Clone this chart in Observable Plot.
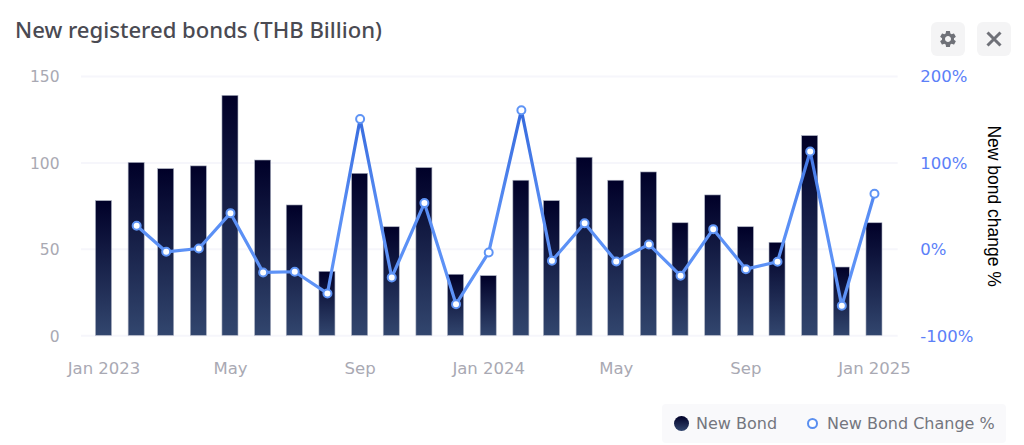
<!DOCTYPE html>
<html>
<head>
<meta charset="utf-8">
<script src="https://cdn.jsdelivr.net/npm/d3@7"></script>
<script src="https://cdn.jsdelivr.net/npm/@observablehq/plot@0.6"></script>
<style>
html,body{margin:0;padding:0;background:#fff;overflow:hidden}
#page{position:relative;width:1024px;height:445px}
#title{position:absolute;left:15px;top:14px;font:500 22.1px "Noto Sans",sans-serif;color:#4a4a52;white-space:nowrap}
.btn{position:absolute;top:22px;width:34px;height:34px;border-radius:6px;background:#f4f4f5;display:flex;align-items:center;justify-content:center}
#chart{position:absolute;left:0;top:60px}
#legend{position:absolute;left:662px;top:404px;width:344px;height:39px;background:#f9f9fb;border-radius:4px;font:16px "DejaVu Sans",sans-serif;color:#74767e}
#legend span{position:absolute;white-space:nowrap}
</style>
</head>
<body>
<div id="page">
  <div id="title">New registered bonds (THB Billion)</div>
  <div class="btn" style="left:931px"><svg width="20" height="20" viewBox="0 0 24 24"><path fill="#6f7178" d="M19.14 12.94c.04-.3.06-.61.06-.94 0-.32-.02-.64-.07-.94l2.03-1.58a.49.49 0 0 0 .12-.61l-1.92-3.32a.488.488 0 0 0-.59-.22l-2.39.96c-.5-.38-1.03-.7-1.62-.94l-.36-2.54a.484.484 0 0 0-.48-.41h-3.84c-.24 0-.43.17-.47.41l-.36 2.54c-.59.24-1.13.57-1.62.94l-2.39-.96c-.22-.08-.47 0-.59.22L2.74 8.87c-.12.21-.08.47.12.61l2.03 1.58c-.05.3-.09.63-.09.94s.02.64.07.94l-2.03 1.58a.49.49 0 0 0-.12.61l1.92 3.32c.12.22.37.29.59.22l2.39-.96c.5.38 1.03.7 1.62.94l.36 2.54c.05.24.24.41.48.41h3.84c.24 0 .44-.17.47-.41l.36-2.54c.59-.24 1.13-.56 1.62-.94l2.39.96c.22.08.47 0 .59-.22l1.92-3.32c.12-.22.07-.47-.12-.61l-2.01-1.58zM12 15.6c-1.98 0-3.6-1.62-3.6-3.6s1.62-3.6 3.6-3.6 3.6 1.62 3.6 3.6-1.62 3.6-3.6 3.6z"/></svg></div>
  <div class="btn" style="left:977px"><svg width="20" height="20" viewBox="0 0 20 20"><path d="M3.5 3.5L16.5 16.5M16.5 3.5L3.5 16.5" stroke="#6f7178" stroke-width="3" fill="none"/></svg></div>
  <div id="chart"></div>
  <div id="legend">
    <span style="left:11.5px;top:11.5px;width:15px;height:15px;border-radius:50%;background:linear-gradient(#000028,#32466e)"></span>
    <span style="left:34px;top:10px">New Bond</span>
    <span style="left:145px;top:14px;width:7px;height:7px;border:2px solid #5a8ff0;border-radius:50%;background:#fff"></span>
    <span style="left:165px;top:10px">New Bond Change %</span>
  </div>
</div>
<script>
const months = ["2023-01","2023-02","2023-03","2023-04","2023-05","2023-06","2023-07","2023-08","2023-09","2023-10","2023-11","2023-12","2024-01","2024-02","2024-03","2024-04","2024-05","2024-06","2024-07","2024-08","2024-09","2024-10","2024-11","2024-12","2025-01"];
const newBond = [77.9,100,96.4,98,138.8,101.4,75.4,37,93.7,62.8,97,35.3,34.5,89.7,77.9,103,89.7,94.5,65.1,81.2,62.8,53.8,115.5,39.5,65.1];
const newBondChange = [null,27.3,-2.8,1,41.9,-26.7,-25.9,-51,150.9,-32.5,53.5,-63.4,-3.6,161,-13.2,30.3,-14,5.7,-30.5,23.4,-22.9,-14.3,113.2,-65.3,64.3];
const xTickMonths = ["2023-01","2023-05","2023-09","2024-01","2024-05","2024-09","2025-01"];
const xTickLabels = ["Jan 2023","May","Sep","Jan 2024","May","Sep","Jan 2025"];
const leftTicks = [0,50,100,150];
const rightTicks = [-100,0,100,200];

const toDate = m => new Date(m + "-01T00:00:00Z");
const halfBarMs = 7.6 * 864e5;
// The right-hand axis spans -100..200 over the same height as 0..150 on the left.
const pctToLeft = p => (p + 100) / 2;
const leftToPct = v => v * 2 - 100;

const rows = months.map((m, i) => ({date: toDate(m), bond: newBond[i], change: newBondChange[i]}));
const changeRows = rows.filter(d => d.change !== null);

const defs = () => {
  const s = d3.create("svg:defs");
  const bar = s.append("linearGradient").attr("id","barGrad").attr("x1",0).attr("x2",0).attr("y1",0).attr("y2",1);
  bar.append("stop").attr("offset","0%").attr("stop-color","#000028");
  bar.append("stop").attr("offset","100%").attr("stop-color","#32466e");
  const ln = s.append("linearGradient").attr("id","lineGrad").attr("x1",0).attr("x2",0).attr("y1",0).attr("y2",1);
  ln.append("stop").attr("offset","0%").attr("stop-color","#3569dc");
  ln.append("stop").attr("offset","55%").attr("stop-color","#5a8ff5");
  ln.append("stop").attr("offset","100%").attr("stop-color","#5f94f7");
  return s.node();
};

const font = '"DejaVu Sans",sans-serif';
const chart = Plot.plot({
  width: 1024,
  height: 335,
  marginTop: 16,
  marginBottom: 59.7,
  marginLeft: 81,
  marginRight: 126.3,
  style: {background: "transparent", fontFamily: font, overflow: "visible"},
  x: {type: "utc", domain: [new Date("2022-12-10T16:00:00Z"), new Date("2025-01-23T12:00:00Z")]},
  y: {domain: [0,150], range: [275.3,16]},
  marks: [
    defs,
    Plot.ruleY(leftTicks, {stroke:"#f6f6fb", strokeWidth:2}),
    Plot.rectY(rows, {
      x1: d => new Date(+d.date - halfBarMs),
      x2: d => new Date(+d.date + halfBarMs),
      y: "bond",
      fill: "url(#barGrad)",
      stroke: "#aab0c0",
      strokeWidth: 0.6
    }),
    Plot.line(changeRows, {x:"date", y: d => pctToLeft(d.change), stroke:"url(#lineGrad)", strokeWidth:3.2, curve:"linear"}),
    Plot.dot(changeRows, {x:"date", y: d => pctToLeft(d.change), r:4, fill:"#fff", stroke:"#5f94f5", strokeWidth:2}),
    Plot.axisY({anchor:"left", ticks:leftTicks, tickSize:0, tickPadding:22, dy:1, fontSize:15.5, color:"#a9a9b3", label:null}),
    Plot.axisY({anchor:"right", ticks:rightTicks.map(pctToLeft), tickFormat:v => leftToPct(v) + "%", tickSize:0, tickPadding:22, dy:0.5, fontSize:16.5, color:"#5b80f8", label:null}),
    Plot.axisX({ticks:xTickMonths.map(toDate), tickFormat:d => xTickLabels[xTickMonths.indexOf(d.toISOString().slice(0,7))], tickSize:0, tickPadding:26, fontSize:16.5, color:"#a9a9b3", label:null}),
    Plot.text(["New bond change %"], {frameAnchor:"right", textAnchor:"middle", dx:95, rotate:90, fill:"#000", fontSize:17.5, fontFamily:'"Liberation Sans",sans-serif'})
  ]
});
document.getElementById("chart").appendChild(chart);
</script>
</body>
</html>
